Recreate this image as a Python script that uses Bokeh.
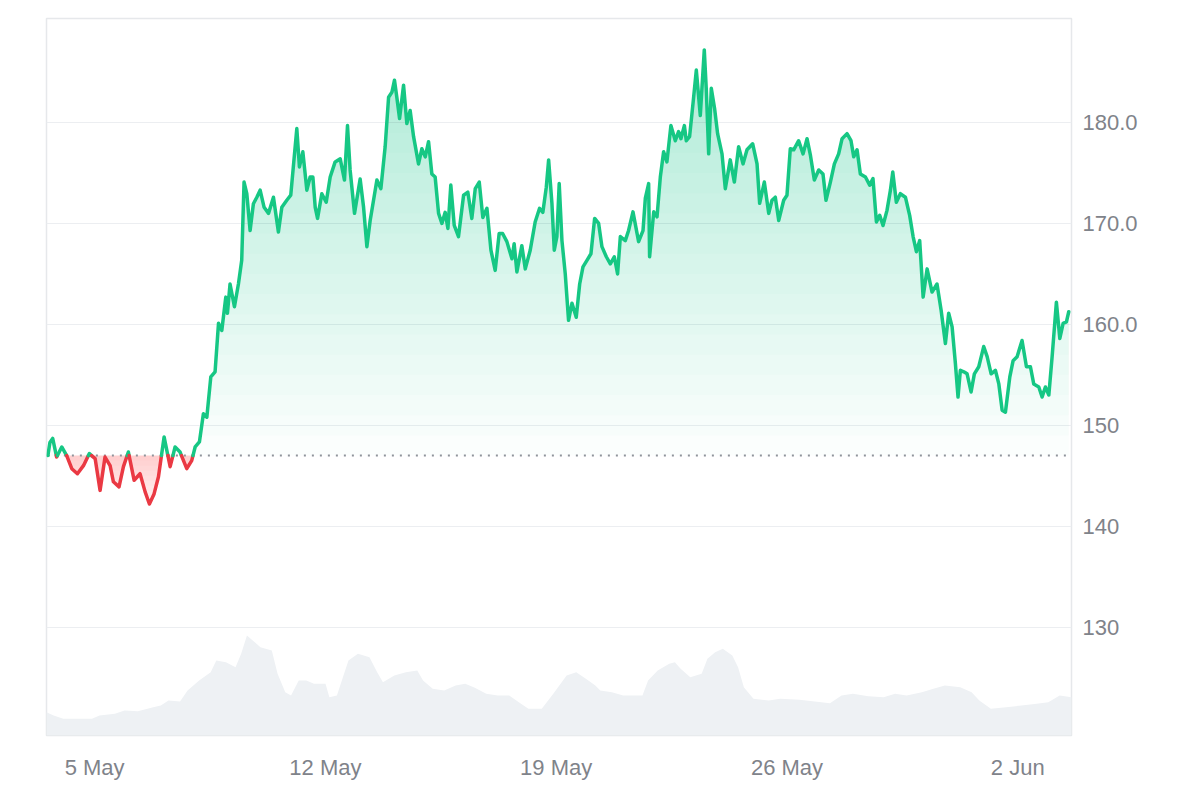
import numpy as np
import pandas as pd
from bokeh.plotting import figure
from bokeh.models import Range1d, FixedTicker
from bokeh.embed import file_html
from bokeh.resources import INLINE

# ---------------- data ----------------
start = pd.Timestamp("2024-05-03 00:00")

# price: hours since start, price (USD)
hours = [14.0, 15.5, 17.5, 20.4, 24.1, 27.7, 31.4, 35.5, 39.9, 44.2, 48.4, 52.0, 55.6, 59.3, 61.7, 65.8,
         69.0, 72.6, 76.8, 81.1, 84.8, 87.9, 91.3, 94.5, 98.6, 103.0, 106.6, 110.2, 115.1, 118.7, 121.2,
         124.3, 127.2, 129.7, 132.6, 135.7, 138.2, 140.6, 143.5, 144.7, 146.6, 149.8, 152.7, 155.1, 156.8,
         158.8, 161.2, 163.6, 166.1, 168.5, 171.4, 174.6, 178.2, 181.8, 184.3, 187.9, 190.8, 195.2, 197.1,
         199.6, 202.5, 204.9, 206.9, 208.6, 210.3, 213.4, 216.6, 219.5, 223.1, 226.8, 229.9, 232.1, 234.0,
         237.2, 241.3, 243.8, 246.2, 248.6, 253.5, 256.4, 259.5, 262.0, 264.4, 266.3, 268.0, 270.0, 272.9,
         275.3, 277.7, 280.2, 283.8, 286.2, 288.7, 291.1, 293.5, 295.9, 298.4, 300.8, 303.2, 305.2, 307.3,
         309.8, 312.9, 316.6, 319.7, 322.6, 325.1, 328.0, 330.6, 333.6, 336.5, 339.6, 342.5, 345.0, 348.1,
         351.8, 353.4, 355.4, 359.0, 361.5, 365.1, 368.7, 371.9, 374.3, 376.8, 378.5, 380.9, 382.6, 384.5,
         386.2, 388.2, 390.6, 393.0, 395.5, 398.6, 401.1, 403.5, 406.4, 409.3, 412.0, 414.9, 417.3, 420.5,
         423.4, 426.3, 428.7, 430.7, 434.3, 436.7, 439.9, 444.0, 447.2, 448.9, 451.3, 452.0, 455.0, 457.4,
         459.8, 462.2, 464.6, 467.5, 470.7, 473.1, 474.8, 477.3, 478.7, 481.1, 483.6, 486.0, 488.9, 491.8,
         493.3, 495.0, 496.9, 499.3, 501.5, 504.7, 507.1, 510.7, 513.7, 516.8, 520.0, 522.9, 527.0, 530.2,
         532.1, 535.5, 538.7, 541.1, 543.5, 546.0, 549.6, 552.0, 554.4, 556.9, 560.5, 563.7, 566.6, 569.0,
         571.9, 575.1, 578.2, 580.4, 583.6, 586.5, 589.6, 592.1, 595.7, 598.6, 600.6, 603.0, 605.4, 609.1,
         612.2, 614.6, 617.1, 619.5, 621.9, 624.8, 627.3, 629.0, 631.6, 634.5, 638.2, 641.3, 643.8, 646.2,
         648.6, 651.1, 654.0, 657.6, 661.2, 664.2, 667.3, 669.7, 672.2, 674.6, 676.5, 678.2, 680.7, 683.1,
         686.0, 688.4, 691.6, 695.2, 697.7, 700.6, 703.7, 706.2, 708.6, 711.0, 714.2, 716.6, 719.5, 723.1,
         726.3, 729.2, 731.6, 735.3, 737.7, 740.1, 742.6, 745.0, 746.7, 748.1, 750.6, 753.0, 755.4, 757.1]

price = [147.0, 148.3, 148.7, 146.85, 147.85, 147.0, 145.7, 145.2, 146.0, 147.2, 146.7, 143.55, 146.85, 146.0,
         144.4, 143.9, 145.9, 147.35, 144.55, 145.2, 143.4, 142.2, 143.2, 144.9, 148.85, 145.9, 147.85,
         147.35, 145.7, 146.5, 147.85, 148.35, 151.15, 150.8, 154.8, 155.3, 160.1, 159.4, 162.7, 161.1,
         164.0, 161.75, 164.0, 166.35, 174.1, 172.95, 169.3, 171.95, 172.6, 173.3, 171.6, 171.0, 172.6,
         169.15, 171.6, 172.3, 172.8, 179.4, 175.6, 177.1, 173.3, 174.6, 174.6, 171.6, 170.5, 172.95, 172.1,
         174.6, 176.1, 176.4, 174.3, 179.7, 175.3, 171.0, 174.4, 171.6, 167.7, 170.3, 174.3, 173.45, 177.6,
         182.5, 183.0, 184.2, 182.5, 180.4, 183.7, 179.9, 181.2, 178.6, 175.9, 177.4, 176.6, 178.1, 174.9,
         174.6, 171.0, 170.0, 171.1, 169.5, 173.8, 169.8, 168.7, 172.8, 173.1, 170.5, 173.45, 174.1, 170.6,
         171.5, 167.35, 165.35, 169.0, 169.0, 168.2, 166.5, 168.0, 165.2, 167.8, 165.5, 167.35, 170.15,
         171.5, 171.1, 173.6, 176.3, 172.0, 167.35, 168.7, 173.95, 168.3, 165.0, 160.4, 162.1, 160.7, 164.0,
         165.7, 166.35, 167.0, 170.5, 170.0, 167.7, 166.7, 166.0, 166.7, 165.0, 168.7, 168.3, 169.3, 171.15,
         168.2, 169.3, 172.5, 173.95, 166.7, 171.15, 170.65, 174.6, 177.1, 176.1, 179.7, 178.2, 179.1, 178.4,
         179.7, 178.2, 178.6, 181.9, 185.2, 180.7, 187.2, 183.2, 176.9, 183.4, 181.4, 178.9, 176.9, 173.45,
         176.3, 174.1, 177.6, 175.9, 177.3, 177.9, 175.9, 172.0, 174.1, 171.0, 172.3, 172.6, 170.3, 172.3,
         172.8, 177.4, 177.3, 178.2, 176.9, 178.4, 176.8, 174.3, 175.3, 174.9, 172.3, 174.1, 175.9, 176.9,
         178.4, 178.9, 178.2, 176.6, 177.3, 174.9, 174.6, 173.8, 174.45, 170.15, 170.8, 169.8, 171.3, 173.3,
         175.1, 172.1, 172.95, 172.6, 170.8, 168.7, 167.2, 168.3, 162.7, 165.5, 163.2, 164.0, 161.4, 158.1,
         161.1, 159.75, 156.1, 152.8, 155.45, 155.3, 155.1, 153.3, 155.1, 155.8, 157.8, 156.8, 155.1, 155.45,
         154.1, 151.5, 151.3, 154.8, 156.4, 156.8, 158.4, 155.8, 155.8, 154.1, 153.8, 152.8, 153.8, 153.0,
         156.8, 159.75, 162.2, 158.6, 160.1, 160.25, 161.25]

# trading volume (billions USD): hours since start, volume
vol_hours = [13.0, 18.2, 25.2, 34.9, 46.1, 51.6, 62.8, 69.8, 79.5, 90.7, 96.2, 101.8, 110.2, 115.7, 124.1,
             132.5, 136.6, 143.6, 150.6, 154.7, 158.9, 163.1, 168.7, 177.0, 181.2, 186.8, 191.0, 196.6,
             202.1, 207.7, 216.1, 218.9, 224.4, 227.2, 232.8, 239.7, 248.1, 253.7, 257.9, 266.2, 274.6,
             282.9, 287.1, 294.1, 302.5, 310.8, 317.8, 324.8, 333.1, 341.5, 349.8, 356.8, 363.8, 373.5,
             381.9, 391.6, 398.6, 405.6, 412.5, 416.1, 424.5, 432.8, 446.8, 450.9, 457.9, 466.3, 470.4,
             474.6, 481.6, 489.9, 494.1, 499.7, 505.3, 512.2, 516.4, 520.6, 527.6, 538.7, 547.1, 561.0,
             572.2, 583.3, 591.7, 600.0, 611.2, 622.3, 630.7, 639.1, 650.2, 658.6, 666.9, 678.1, 686.4,
             692.0, 700.4, 711.5, 722.7, 733.8, 742.2, 750.5, 759.1]
volume = [0.233, 0.200, 0.167, 0.167, 0.167, 0.200, 0.217, 0.250, 0.243, 0.283, 0.300, 0.350, 0.340, 0.450,
          0.550, 0.633, 0.750, 0.733, 0.683, 0.817, 1.000, 0.950, 0.883, 0.850, 0.617, 0.433, 0.400, 0.550,
          0.550, 0.517, 0.517, 0.383, 0.400, 0.517, 0.750, 0.817, 0.783, 0.633, 0.533, 0.600, 0.633, 0.650,
          0.550, 0.467, 0.450, 0.500, 0.517, 0.477, 0.417, 0.400, 0.400, 0.333, 0.267, 0.267, 0.417, 0.600,
          0.633, 0.567, 0.500, 0.450, 0.433, 0.400, 0.400, 0.550, 0.650, 0.717, 0.733, 0.667, 0.583, 0.617,
          0.767, 0.833, 0.867, 0.800, 0.683, 0.483, 0.367, 0.350, 0.367, 0.357, 0.340, 0.323, 0.400, 0.417,
          0.393, 0.383, 0.417, 0.400, 0.433, 0.467, 0.500, 0.483, 0.433, 0.350, 0.267, 0.283, 0.300, 0.317,
          0.333, 0.400, 0.383]

tick_dates = ["2024-05-05", "2024-05-12", "2024-05-19", "2024-05-26", "2024-06-02"]
tick_labels = ["5 May", "12 May", "19 May", "26 May", "2 Jun"]
price_ticks = [130, 140, 150, 160, 170, 180]
price_tick_labels = ["130", "140", "150", "160.0", "170.0", "180.0"]

GREEN = "#16c784"
RED = "#ea3943"
LABEL = "#7f838a"
FONT = "Liberation Sans"

BASE = price[0]


def insert_crossings(x, y, levels):
    xs, ys = [x[0]], [y[0]]
    for i in range(len(x) - 1):
        x0, y0, x1, y1 = x[i], y[i], x[i + 1], y[i + 1]
        if y1 != y0:
            lo, hi = min(y0, y1), max(y0, y1)
            ts = sorted((L - y0) / (y1 - y0) for L in levels if lo < L < hi)
            for t in ts:
                xs.append(x0 + t * (x1 - x0))
                ys.append(y0 + t * (y1 - y0))
        xs.append(x1)
        ys.append(y1)
    return np.array(xs), np.array(ys)


x_start = 13.0
x_end = 759.1

p = figure(frame_width=1025, frame_height=717,
           x_range=Range1d(x_start, x_end), y_range=Range1d(119.26, 190.31),
           y_axis_location="right", output_backend="svg", toolbar_location=None,
           min_border_left=46, min_border_top=18, min_border_right=105, min_border_bottom=45,
           background_fill_color="white", border_fill_color="white")

p.extra_y_ranges = {"vol": Range1d(0, 7.17)}

# volume area
p.varea(x=vol_hours, y1=0, y2=volume, y_range_name="vol", fill_color="#eef1f4", fill_alpha=1.0)

# gradient fills via stacked translucent layers
g_levels = [BASE + 2.0 * k for k in range(21)]
r_levels = [BASE - 0.5 * k for k in range(13)]
xd, yd = insert_crossings(hours, price, g_levels + r_levels)

for L in g_levels:
    p.varea(x=xd, y1=np.full_like(yd, L), y2=np.maximum(yd, L),
            fill_color=GREEN, fill_alpha=0.0165)
for L in r_levels:
    p.varea(x=xd, y1=np.clip(yd, L, BASE), y2=np.full_like(yd, BASE),
            fill_color=RED, fill_alpha=0.02)

# baseline (opening price)
p.line(x=[hours[0], x_end], y=[BASE, BASE], line_color="#8f949b", line_width=2, line_dash="2 6")

# price line split at baseline
xc, yc = insert_crossings(hours, price, [BASE])
runs_x, runs_y, runs_c = [], [], []
cur_x, cur_y, cur_up = [xc[0]], [yc[0]], None
for i in range(len(xc) - 1):
    up = (yc[i] + yc[i + 1]) / 2 >= BASE
    if cur_up is None:
        cur_up = up
    if up != cur_up:
        runs_x.append(cur_x); runs_y.append(cur_y); runs_c.append(GREEN if cur_up else RED)
        cur_x, cur_y, cur_up = [xc[i]], [yc[i]], up
    cur_x.append(xc[i + 1]); cur_y.append(yc[i + 1])
runs_x.append(cur_x); runs_y.append(cur_y); runs_c.append(GREEN if cur_up else RED)

p.multi_line(xs=runs_x, ys=runs_y, line_color=runs_c, line_width=3.5,
             line_join="round", line_cap="round")

# axes
x_tick_pos = [(pd.Timestamp(d) - start) / pd.Timedelta(hours=1) for d in tick_dates]
p.xaxis.ticker = FixedTicker(ticks=x_tick_pos)
p.xaxis.major_label_overrides = {t: l for t, l in zip(x_tick_pos, tick_labels)}
p.yaxis.ticker = FixedTicker(ticks=price_ticks)
p.yaxis.major_label_overrides = {t: l for t, l in zip(price_ticks, price_tick_labels)}

for ax in (p.xaxis[0], p.yaxis[0]):
    ax.axis_line_color = None
    ax.major_tick_line_color = None
    ax.minor_tick_line_color = None
    ax.major_label_text_font = FONT
    ax.major_label_text_font_size = "22px"
    ax.major_label_text_color = LABEL
p.xaxis.major_label_standoff = 13
p.yaxis.major_label_standoff = 5

p.xgrid.visible = False
p.ygrid.ticker = FixedTicker(ticks=price_ticks)
p.ygrid.grid_line_color = "#eceef1"
p.ygrid.grid_line_width = 1

p.outline_line_color = "#e6e8eb"
p.outline_line_width = 1.5

open("out.html", "w").write(file_html(p, INLINE))
